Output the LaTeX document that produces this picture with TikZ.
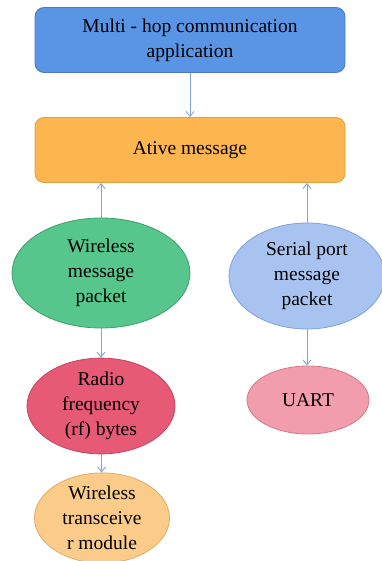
\documentclass[tikz,border=0pt]{standalone}
\usepackage{fontspec}
\setmainfont{Liberation Serif}
\usetikzlibrary{shapes.geometric,arrows.meta}
\definecolor{topblue}{HTML}{5A94E4}
\definecolor{topblueline}{HTML}{4A78C0}
\definecolor{amorange}{HTML}{FDB54F}
\definecolor{amorangeline}{HTML}{E0A040}
\definecolor{wlgreen}{HTML}{56C68C}
\definecolor{wlgreenline}{HTML}{3F9E6C}
\definecolor{spblue}{HTML}{A9C3F1}
\definecolor{spblueline}{HTML}{7FA0D8}
\definecolor{rfred}{HTML}{E65A75}
\definecolor{rfredline}{HTML}{C34560}
\definecolor{uartpink}{HTML}{F19DAE}
\definecolor{uartpinkline}{HTML}{D27A8C}
\definecolor{trpeach}{HTML}{FBCB89}
\definecolor{trpeachline}{HTML}{E0AB68}
\definecolor{arrowblue}{HTML}{7FA8D8}

\begin{document}
\begin{tikzpicture}[x=1pt,y=-1pt,
  font=\rmfamily\fontsize{19.5}{25}\selectfont,
  layer/.style={rounded corners=9pt, minimum width=310pt, minimum height=65pt,
    align=center, inner sep=0pt, line width=0.8pt},
  blob/.style={ellipse, align=center, inner sep=0pt, line width=0.8pt},
  link/.style={-{Straight Barb[length=5pt,width=8pt]}, draw=arrowblue, line width=0.9pt}]
\useasboundingbox (0,0) rectangle (381,561);

% layers
\node[layer, fill=topblue, draw=topblueline] (app) at (190,40)
  {Multi - hop communication\\application};
\node[layer, fill=amorange, draw=amorangeline] (am) at (190,150) {Ative message};

% wireless side
\node[blob, fill=wlgreen, draw=wlgreenline, minimum width=178pt, minimum height=110pt]
  (wmp) at (101,273) {Wireless\\message\\packet};
\node[blob, fill=rfred, draw=rfredline, minimum width=148pt, minimum height=86pt]
  (rf) at (101,406) {Radio\\frequency\\(rf) bytes};
\node[blob, fill=trpeach, draw=trpeachline, minimum width=135pt, minimum height=90pt]
  (trx) at (102,518) {Wireless\\transceive\\r module};

% serial side
\node[blob, fill=spblue, draw=spblueline, minimum width=156pt, minimum height=106pt]
  (smp) at (307,276) {Serial port\\message\\packet};
\node[blob, fill=uartpink, draw=uartpinkline, minimum width=122pt, minimum height=68pt]
  (uart) at (308,400) {UART};

% arrows
\draw[link] (app) -- (am);
\draw[link] (wmp.north) -- (wmp.north |- am.south);
\draw[link] (smp.north) -- (smp.north |- am.south);
\draw[link] (wmp) -- (rf);
\draw[link] (smp.south) -- (smp.south |- uart.north);
\draw[link] (rf) -- (trx);

\end{tikzpicture}
\end{document}
